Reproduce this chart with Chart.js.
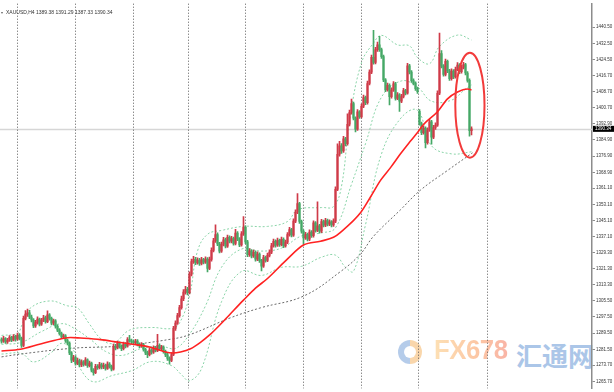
<!DOCTYPE html>
<html><head><meta charset="utf-8">
<script src="https://cdn.jsdelivr.net/npm/chart.js@4/dist/chart.umd.min.js"></script>
<style>
html,body{margin:0;padding:0;background:#fff;}
#wrap{position:relative;width:614px;height:392px;overflow:hidden;background:#fff;}
#c{position:absolute;left:0;top:0;z-index:2;}
#wm{position:absolute;left:0;top:0;width:614px;height:392px;z-index:1;}
#logo{position:absolute;left:398px;top:340px;width:24px;height:24px;border-radius:50%;
 background:conic-gradient(#f7c98f 0 50%, #9dbbe3 50% 100%);opacity:0.75;}
#logo:after{content:"";position:absolute;left:6px;top:6px;width:12px;height:12px;border-radius:50%;background:#fff;}
#fx{position:absolute;left:434px;top:334px;font:bold 28px "Liberation Sans",Arial,sans-serif;letter-spacing:-0.5px;
 transform:scaleX(0.92);transform-origin:left top;
 background:linear-gradient(90deg,#fde0b4,#fcc6a4 60%,#f9b4a6);-webkit-background-clip:text;background-clip:text;color:transparent;}
#ht{position:absolute;left:516px;top:336px;font:bold 26px "Noto Sans CJK SC",sans-serif;color:#abc6e8;}
#title{position:absolute;left:6px;top:9px;font:5px "Liberation Sans",Arial,sans-serif;color:#333;white-space:nowrap;z-index:3;}
#tri{position:absolute;left:1px;top:10px;font:4px "DejaVu Sans",sans-serif;color:#666;z-index:3;}
</style></head>
<body>
<div id="wrap">
 <div id="wm"><div id="logo"></div><div id="fx">FX678</div><div id="ht">汇通网</div></div>
 <canvas id="c" width="614" height="392"></canvas>
 <div id="tri">▾</div>
 <div id="title">XAUUSD,H4  1389.38 1391.29 1387.33 1390.34</div>
</div>
<script>
// ---- candle data (H4 bars, left to right) ----
const opens = [
1286.3,1285.5,1286.8,1285.2,1286.0,1287.4,1286.1,1287.9,1286.5,1288.6,
1287.0,1283.4,1296.8,1298.9,1299.6,1297.5,1296.0,1293.1,1294.8,1296.4,
1294.0,1295.9,1297.1,1295.2,1298.6,1296.8,1294.4,1295.6,1292.9,1291.0,
1289.3,1287.6,1288.2,1285.9,1284.6,1279.8,1276.2,1277.5,1274.6,1276.0,
1273.8,1275.4,1274.1,1276.3,1273.5,1274.8,1271.2,1270.0,1273.2,1272.5,
1274.0,1272.8,1273.6,1272.1,1274.3,1273.0,1271.8,1283.0,1282.2,1284.5,
1283.0,1281.8,1284.0,1283.1,1286.4,1285.7,1285.2,1284.8,1285.6,1284.0,
1283.2,1283.9,1281.5,1279.8,1278.9,1281.2,1280.1,1282.3,1281.0,1283.5,
1281.8,1282.6,1280.4,1278.8,1277.0,1276.1,1279.0,1291.8,1294.5,1298.2,
1302.1,1306.5,1309.8,1311.2,1309.5,1318.6,1324.8,1326.0,1324.2,1325.6,
1323.9,1325.8,1324.6,1326.1,1321.5,1325.9,1330.4,1335.1,1338.2,1333.6,
1330.0,1333.4,1335.6,1332.5,1336.8,1334.9,1336.2,1333.8,1338.9,1336.0,
1333.1,1338.5,1341.8,1334.6,1328.2,1330.1,1327.6,1329.4,1326.0,1328.5,
1325.3,1322.6,1326.8,1325.4,1327.9,1329.5,1332.6,1334.8,1332.9,1335.3,
1333.2,1335.8,1332.6,1334.4,1338.1,1340.6,1337.9,1344.8,1349.2,1353.4,
1344.6,1339.8,1336.5,1338.2,1335.9,1339.4,1337.6,1343.9,1340.2,1342.5,
1339.8,1344.6,1342.8,1345.1,1343.3,1344.4,1342.9,1344.8,1360.5,1377.8,
1382.0,1379.5,1385.4,1383.0,1392.6,1398.4,1402.8,1395.6,1390.2,1398.7,
1396.4,1401.5,1405.8,1403.2,1412.7,1418.3,1425.6,1423.1,1429.4,1431.8,
1429.5,1426.0,1414.5,1409.6,1411.8,1406.2,1409.5,1412.6,1405.4,1407.1,
1404.0,1406.3,1409.2,1408.0,1421.5,1418.4,1414.1,1412.9,1410.2,1399.0,
1393.0,1388.4,1390.6,1383.5,1389.8,1393.8,1386.2,1391.0,1392.2,1407.9,
1427.5,1421.3,1417.2,1423.6,1419.0,1415.1,1418.9,1416.0,1419.7,1421.8,
1418.5,1420.6,1422.0,1417.9,1414.3,1389.38];
const highs = [
1287.2,1287.9,1287.3,1286.9,1288.3,1288.0,1288.8,1288.5,1289.6,1289.3,
1287.6,1298.0,1300.6,1301.4,1300.8,1298.4,1296.7,1295.9,1297.6,1297.0,
1296.8,1298.3,1297.9,1300.5,1299.2,1297.4,1296.5,1296.2,1293.6,1291.8,
1290.1,1289.1,1288.8,1286.6,1285.2,1280.4,1278.6,1278.1,1277.2,1276.7,
1276.3,1276.0,1277.4,1276.9,1275.7,1275.3,1272.0,1274.1,1274.0,1275.1,
1274.7,1274.8,1274.3,1275.4,1275.0,1273.7,1284.1,1284.0,1285.6,1285.2,
1283.8,1285.1,1284.9,1287.3,1288.4,1286.6,1286.1,1286.5,1286.3,1284.8,
1284.9,1284.5,1282.2,1280.7,1282.1,1281.9,1283.2,1283.0,1288.9,1284.3,
1283.5,1283.3,1281.1,1279.5,1277.8,1279.9,1292.9,1295.6,1299.3,1303.2,
1307.8,1311.0,1312.6,1312.1,1319.8,1326.1,1327.4,1326.9,1326.7,1326.4,
1326.9,1326.5,1327.2,1326.8,1327.0,1331.6,1336.3,1343.0,1339.0,1334.3,
1334.5,1336.8,1336.4,1337.9,1337.6,1337.3,1336.9,1340.8,1339.7,1336.7,
1339.6,1347.0,1342.5,1335.3,1331.2,1330.8,1330.5,1330.1,1329.6,1329.2,
1326.0,1327.9,1327.6,1329.0,1330.6,1333.8,1335.9,1335.6,1336.4,1336.0,
1336.9,1336.5,1335.5,1339.2,1341.8,1341.3,1345.9,1350.4,1358.4,1354.1,
1345.3,1340.5,1339.3,1338.9,1340.5,1340.1,1345.0,1344.6,1354.3,1343.2,
1345.7,1345.3,1346.2,1345.8,1345.5,1345.1,1345.9,1361.7,1383.0,1384.2,
1383.1,1386.6,1386.2,1397.8,1399.6,1405.0,1403.5,1396.3,1399.8,1399.4,
1402.6,1407.0,1406.5,1413.9,1419.5,1426.8,1439.0,1430.6,1433.1,1436.0,
1430.2,1426.7,1415.2,1412.9,1412.5,1410.6,1413.7,1413.3,1408.2,1407.8,
1407.4,1410.3,1409.9,1422.7,1422.2,1419.1,1415.0,1413.6,1410.9,1399.8,
1393.7,1391.7,1391.3,1390.9,1395.0,1394.5,1392.1,1393.3,1409.1,1437.6,
1429.0,1422.0,1424.8,1424.3,1419.7,1420.0,1419.6,1420.8,1423.0,1422.5,
1421.7,1423.2,1422.7,1418.6,1415.0,1391.29];
const lows = [
1284.6,1284.9,1284.4,1284.5,1285.4,1285.3,1285.7,1285.6,1286.0,1286.2,
1282.5,1282.9,1296.0,1297.8,1296.7,1295.1,1292.2,1292.4,1294.0,1293.1,
1293.3,1295.2,1294.4,1294.7,1295.9,1293.6,1293.7,1292.0,1290.2,1288.5,
1286.8,1286.9,1285.0,1283.7,1278.9,1275.0,1275.4,1273.7,1273.9,1272.9,
1273.0,1273.2,1273.6,1272.6,1272.8,1270.4,1268.8,1269.5,1271.6,1271.9,
1271.9,1272.0,1271.2,1271.6,1272.2,1270.9,1271.2,1281.3,1281.7,1282.1,
1280.9,1281.2,1282.2,1282.6,1284.9,1284.3,1283.9,1284.0,1283.2,1282.3,
1282.5,1280.6,1278.9,1277.4,1278.3,1279.2,1279.5,1280.2,1280.4,1280.9,
1281.0,1279.6,1277.9,1276.1,1274.2,1275.5,1278.4,1290.9,1293.8,1297.4,
1301.3,1305.6,1308.7,1308.4,1308.9,1317.7,1323.9,1323.3,1323.5,1323.0,
1323.2,1323.7,1323.9,1319.7,1320.8,1325.1,1329.6,1334.3,1332.7,1329.1,
1329.3,1332.6,1331.6,1331.8,1334.0,1334.1,1332.9,1333.1,1335.1,1332.2,
1332.5,1337.7,1333.7,1327.3,1327.4,1326.7,1326.9,1325.1,1325.3,1324.4,
1320.2,1322.0,1324.5,1324.8,1327.1,1328.8,1331.9,1332.0,1332.3,1332.3,
1332.6,1331.7,1331.9,1333.7,1337.4,1337.0,1337.3,1344.0,1348.5,1343.7,
1338.9,1333.4,1335.8,1335.0,1335.2,1336.7,1336.9,1339.3,1339.6,1338.9,
1339.1,1341.9,1342.1,1342.4,1342.6,1342.0,1342.2,1344.1,1359.8,1376.9,
1378.2,1378.7,1381.9,1382.3,1391.8,1397.6,1394.7,1388.8,1389.6,1395.5,
1395.7,1400.8,1402.3,1402.5,1412.0,1417.6,1422.2,1422.4,1428.6,1428.6,
1425.1,1413.6,1408.7,1408.9,1402.2,1405.5,1408.8,1404.5,1404.7,1399.0,
1403.3,1405.6,1407.1,1407.4,1417.5,1413.2,1412.0,1409.3,1407.8,1392.1,
1387.5,1387.7,1380.9,1382.8,1389.1,1382.8,1385.5,1390.1,1391.5,1407.2,
1420.4,1416.3,1416.5,1418.1,1414.2,1414.4,1415.1,1415.3,1419.0,1417.6,
1417.8,1419.9,1417.0,1413.4,1386.7,1387.33];
const closes = [
1285.5,1286.8,1285.2,1286.0,1287.4,1286.1,1287.9,1286.5,1288.6,1287.0,
1283.4,1296.8,1298.9,1299.6,1297.5,1296.0,1293.1,1294.8,1296.4,1294.0,
1295.9,1297.1,1295.2,1298.6,1296.8,1294.4,1295.6,1292.9,1291.0,1289.3,
1287.6,1288.2,1285.9,1284.6,1279.8,1276.2,1277.5,1274.6,1276.0,1273.8,
1275.4,1274.1,1276.3,1273.5,1274.8,1271.2,1270.0,1273.2,1272.5,1274.0,
1272.8,1273.6,1272.1,1274.3,1273.0,1271.8,1283.0,1282.2,1284.5,1283.0,
1281.8,1284.0,1283.1,1286.4,1285.7,1285.2,1284.8,1285.6,1284.0,1283.2,
1283.9,1281.5,1279.8,1278.9,1281.2,1280.1,1282.3,1281.0,1283.5,1281.8,
1282.6,1280.4,1278.8,1277.0,1276.1,1279.0,1291.8,1294.5,1298.2,1302.1,
1306.5,1309.8,1311.2,1309.5,1318.6,1324.8,1326.0,1324.2,1325.6,1323.9,
1325.8,1324.6,1326.1,1321.5,1325.9,1330.4,1335.1,1338.2,1333.6,1330.0,
1333.4,1335.6,1332.5,1336.8,1334.9,1336.2,1333.8,1338.9,1336.0,1333.1,
1338.5,1341.8,1334.6,1328.2,1330.1,1327.6,1329.4,1326.0,1328.5,1325.3,
1322.6,1326.8,1325.4,1327.9,1329.5,1332.6,1334.8,1332.9,1335.3,1333.2,
1335.8,1332.6,1334.4,1338.1,1340.6,1337.9,1344.8,1349.2,1353.4,1344.6,
1339.8,1336.5,1338.2,1335.9,1339.4,1337.6,1343.9,1340.2,1342.5,1339.8,
1344.6,1342.8,1345.1,1343.3,1344.4,1342.9,1344.8,1360.5,1377.8,1382.0,
1379.5,1385.4,1383.0,1392.6,1398.4,1402.8,1395.6,1390.2,1398.7,1396.4,
1401.5,1405.8,1403.2,1412.7,1418.3,1425.6,1423.1,1429.4,1431.8,1429.5,
1426.0,1414.5,1409.6,1411.8,1406.2,1409.5,1412.6,1405.4,1407.1,1404.0,
1406.3,1409.2,1408.0,1421.5,1418.4,1414.1,1412.9,1410.2,1408.7,1393.0,
1388.4,1390.6,1383.5,1389.8,1393.8,1386.2,1391.0,1392.2,1407.9,1427.5,
1421.3,1417.2,1423.6,1419.0,1415.1,1418.9,1416.0,1419.7,1421.8,1418.5,
1420.6,1422.0,1417.9,1414.3,1389.38,1390.34];

// ---- indicator lines (bar index, price) ----
const redMaIdx = [0,9.5,19.5,29.5,34.5,39.5,49.5,58.5,64.5,74.5,82,85.5,89.5,94.5,99.5,104.5,109.5,114.5,121,127,133,142,151,159.5,166,169.5,179.5,184.5,189.5,194.5,199.5,204.5,208.5,211,218,223,228,233,235];
const redMaVal = [1280.7,1281.6,1284.2,1286.6,1287.4,1287.1,1286.3,1285.0,1284.2,1282.6,1280.2,1279.7,1280.2,1281.8,1285.0,1289.0,1293.9,1299.1,1305.8,1311.7,1316.5,1325.2,1333.0,1334.9,1336.8,1339.3,1348.9,1356.7,1364.9,1371.2,1378.0,1384.3,1389.2,1392.5,1398.8,1405.1,1408.5,1410.0,1409.5];
const blackMaIdx = [0,9.5,36,58,84.5,94.5,114.5,129.5,151,169.5,179.5,186,199.5,209.5,223,235.5];
const blackMaVal = [1277.8,1279.2,1282.1,1283.1,1286.5,1288.9,1297.1,1302.0,1307.8,1319.9,1328.6,1337.3,1350.4,1360.1,1369.8,1378.5];
const bbUpIdx = [0,8,10,14,24,33,38,44,50,56,64,75,85,89,94,98,103,110,121,133,143,148,160,166,170,174,180,186,190,198,204,208,214,219,228,235];
const bbUpVal = [1288.4,1289.4,1293.0,1301.5,1305.4,1303.0,1302.0,1294.0,1286.5,1284.5,1291.0,1292.3,1291.8,1294.5,1308.0,1330.0,1338.3,1340.2,1342.2,1342.2,1344.6,1350.4,1351.5,1352.0,1362.0,1394.0,1423.0,1432.7,1436.5,1431.8,1431.3,1425.5,1422.5,1431.0,1436.6,1434.2];
const bbMidIdx = [0,10,20,30,37,45,52,60,70,80,87,94,102,110,120,130,140,150,160,167,175,182,190,200,208,215,225,232,235];
const bbMidVal = [1284.0,1285.0,1290.3,1294.2,1291.5,1286.0,1280.5,1278.5,1282.0,1283.0,1282.0,1289.0,1303.0,1322.0,1331.0,1330.0,1331.5,1337.5,1339.0,1341.5,1363.0,1383.0,1406.0,1414.0,1411.0,1404.0,1404.5,1410.0,1412.0];
const bbLowIdx = [0,10,16,25,30,36,40,46,55,65,75,85,90,94,100,110,120,130,140,150,160,167,172,176,182,190,200,208,215,225,235];
const bbLowVal = [1279.2,1279.5,1275.3,1280.0,1284.5,1281.0,1271.0,1265.5,1268.5,1271.0,1275.5,1273.5,1269.0,1266.0,1272.0,1305.0,1320.0,1318.0,1322.0,1322.5,1327.0,1328.0,1322.0,1320.0,1343.0,1378.0,1396.0,1399.5,1382.0,1378.0,1379.0];

// ---- axis ----
const yTickLabels = ['1440.50','1432.50','1424.50','1416.70','1408.70','1400.70','1392.90','1384.90','1376.90','1368.90','1361.10','1353.10','1345.10','1337.10','1329.30','1321.30','1313.30','1305.50','1297.50','1289.50','1281.50','1273.70','1265.70'];
const separatorIdx = [7.75,36.75,65.75,93.25,121.75,150.75,179.75,208.25,242.75];
const lastPrice = 1390.34;
const ellipseNote = {cx:234.2, cy:1402.0, rx:7.3, ry:25.9};

const UP = '#cf3a48', DOWN = '#45a866';
const cols = closes.map((c,i)=> c >= opens[i] ? UP : DOWN);
const pts = (xs, ys) => xs.map((x,k)=>({x:x, y:ys[k]}));

const bgPlugin = {
  id:'bg',
  beforeDatasetsDraw(chart){
    const {ctx, chartArea:a, scales:{x,y}} = chart;
    ctx.save();
    const py = Math.round(y.getPixelForValue(lastPrice)) + 0.5;
    ctx.strokeStyle = '#d6d6d6'; ctx.lineWidth = 1.5;
    ctx.beginPath(); ctx.moveTo(a.left, py); ctx.lineTo(a.right, py); ctx.stroke();
    ctx.strokeStyle = '#5a5a5a'; ctx.lineWidth = 1; ctx.setLineDash([1,2]);
    separatorIdx.forEach(v=>{
      const px = Math.round(x.getPixelForValue(v)) + 0.5;
      ctx.beginPath(); ctx.moveTo(px, a.top); ctx.lineTo(px, a.bottom); ctx.stroke();
    });
    ctx.restore();
  },
  afterDatasetsDraw(chart){
    const {ctx, scales:{x,y}} = chart;
    const cx = x.getPixelForValue(ellipseNote.cx), cy = y.getPixelForValue(ellipseNote.cy);
    const rx = x.getPixelForValue(ellipseNote.cx + ellipseNote.rx) - cx;
    const ry = cy - y.getPixelForValue(ellipseNote.cy + ellipseNote.ry);
    ctx.save();
    ctx.strokeStyle = '#f23b3b'; ctx.lineWidth = 2;
    ctx.beginPath(); ctx.ellipse(cx, cy, rx, ry, 0, 0, Math.PI*2); ctx.stroke();
    ctx.restore();
  },
  afterDraw(chart){
    const {ctx, chartArea:a, scales:{y}} = chart;
    const py = y.getPixelForValue(lastPrice);
    ctx.save();
    ctx.fillStyle = '#000';
    ctx.fillRect(a.right + 1, py - 3, 21, 6);
    ctx.fillStyle = '#fff';
    ctx.font = '4.5px "Liberation Sans", Arial, sans-serif';
    ctx.textBaseline = 'middle';
    ctx.fillText(lastPrice.toFixed(2), a.right + 3, py + 0.3);
    ctx.restore();
  }
};

new Chart(document.getElementById('c'), {
  type:'bar',
  data:{
    datasets:[
      {type:'line', data:pts(bbUpIdx,bbUpVal), borderColor:'#8ad4a8', borderWidth:1, borderDash:[2,2], pointRadius:0, tension:0.4, order:6},
      {type:'line', data:pts(bbMidIdx,bbMidVal), borderColor:'#8ad4a8', borderWidth:1, borderDash:[2,2], pointRadius:0, tension:0.4, order:6},
      {type:'line', data:pts(bbLowIdx,bbLowVal), borderColor:'#8ad4a8', borderWidth:1, borderDash:[2,2], pointRadius:0, tension:0.4, order:6},
      {type:'line', data:pts(blackMaIdx,blackMaVal), borderColor:'#6a6a6a', borderWidth:1, borderDash:[2,2], pointRadius:0, tension:0.4, order:5},
      {type:'bar', data:closes.map((c,i)=>({x:i, y:[lows[i], highs[i]]})), backgroundColor:cols, barThickness:1, grouped:false, order:3},
      {type:'bar', data:closes.map((c,i)=>({x:i, y:[opens[i], c]})), backgroundColor:cols, barThickness:1.5, minBarLength:1, grouped:false, order:2},
      {type:'line', data:pts(redMaIdx,redMaVal), borderColor:'#ff2222', borderWidth:1.6, pointRadius:0, tension:0.4, cubicInterpolationMode:'monotone', order:1}
    ]
  },
  options:{
    responsive:false, animation:false, devicePixelRatio:1,
    layout:{padding:0},
    plugins:{legend:{display:false}, tooltip:{enabled:false}},
    scales:{
      x:{type:'linear', min:-0.75, max:295.25, offset:false,
         grid:{display:false, offset:false}, border:{display:false},
         ticks:{display:false}, afterFit(s){ s.height = 0; }},
      y:{type:'linear', position:'right', min:1262.3, max:1452.1,
         afterBuildTicks(s){ s.ticks = yTickLabels.map(t=>({value:parseFloat(t)})); },
         afterFit(s){ s.width = 22; },
         grid:{drawOnChartArea:false, drawTicks:true, tickLength:3, color:'#8c8c8c'},
         border:{display:true, color:'#8c8c8c', width:1.5},
         ticks:{autoSkip:false, padding:1, color:'#333', font:{size:4.5, family:'"Liberation Sans", Arial, sans-serif'},
                callback:(v)=>Number(v).toFixed(2)}}
    }
  },
  plugins:[bgPlugin]
});
</script>
</body></html>
